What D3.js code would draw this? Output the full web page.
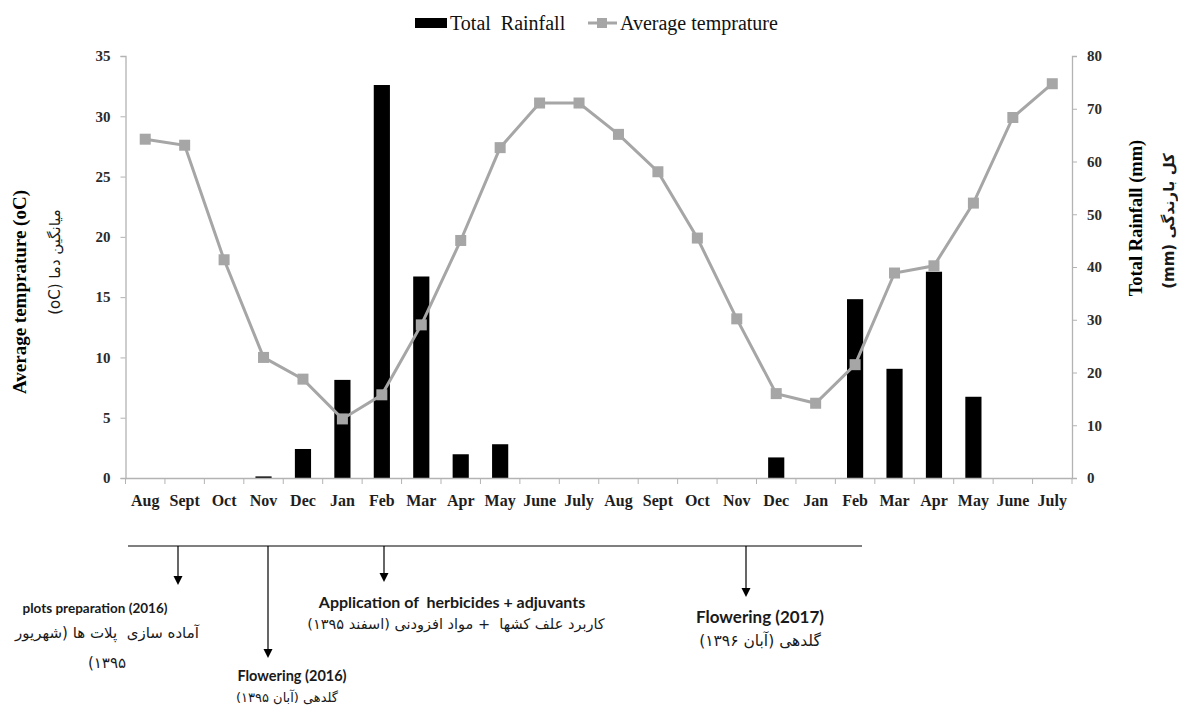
<!DOCTYPE html>
<html>
<head>
<meta charset="utf-8">
<script src="https://cdn.jsdelivr.net/npm/d3@7"></script>
<style>
  body { margin: 0; background: #fff; }
  svg { display: block; }
  .tick-lbl { font-family: "Liberation Serif", "Times New Roman", serif; font-weight: bold; }
  .note { font-family: Lato, "Open Sans", sans-serif; font-weight: bold; fill: #1a1a1a; }
  .fa { font-family: "DejaVu Sans", sans-serif; fill: #1a1a1a; }
</style>
</head>
<body>
<svg id="canvas" width="1178" height="707"></svg>
<script>
// months, two seasons (Aug 2016 .. July 2018)
let months = ["Aug", "Sept", "Oct", "Nov", "Dec", "Jan", "Feb", "Mar", "Apr", "May", "June", "July",
              "Aug", "Sept", "Oct", "Nov", "Dec", "Jan", "Feb", "Mar", "Apr", "May", "June", "July"];

// total rainfall (mm) - right axis
let rainfall = [0, 0, 0, 0.3, 5.5, 18.6, 74.5, 38.2, 4.5, 6.4, 0, 0,
                0, 0, 0, 0, 3.9, 0, 33.9, 20.7, 39.1, 15.4, 0, 0];

// average temprature (oC) - left axis
let temperature = [28.1, 27.6, 18.1, 10.0, 8.2, 4.9, 6.9, 12.7, 19.7, 27.4, 31.1, 31.1,
                   28.5, 25.4, 19.9, 13.2, 7.0, 6.2, 9.4, 17.0, 17.6, 22.8, 29.9, 32.7];

let tempTicks = [0, 5, 10, 15, 20, 25, 30, 35];
let rainTicks = [0, 10, 20, 30, 40, 50, 60, 70, 80];

// timeline notes below the chart
let noteEn = ["plots preparation (2016)", "Flowering (2016)", "Application of  herbicides + adjuvants", "Flowering (2017)"];
let noteFa = [["آماده سازی  پلات ها (شهریور", "۱۳۹۵)"], ["گلدهی (آبان ۱۳۹۵)"], ["کاربرد علف کشها  + مواد افزودنی (اسفند ۱۳۹۵)"], ["گلدهی (آبان ۱۳۹۶)"]];

let svg = d3.select("#canvas");

let plotL = 125.5, plotR = 1072, plotT = 56, plotB = 478;
let gray = "#a6a6a6";
let axisGray = "#b3b3b3";

let x = d3.scaleBand().domain(d3.range(months.length)).range([plotL, plotR]).paddingInner(0.59).paddingOuter(0.295);
let xBand = d3.scaleBand().domain(d3.range(months.length)).range([plotL, plotR]);
let yT = d3.scaleLinear().domain([0, 35]).range([plotB, plotT]);
let yR = d3.scaleLinear().domain([0, 80]).range([plotB, plotT]);

// bars
svg.append("g").selectAll("rect")
  .data(rainfall)
  .enter().append("rect")
    .attr("x", (d, i) => xBand(i) + xBand.bandwidth() / 2 - x.bandwidth() / 2)
    .attr("width", x.bandwidth())
    .attr("y", d => yR(d))
    .attr("height", d => plotB - yR(d))
    .attr("fill", "#000");

// axes
let gL = svg.append("g").attr("transform", `translate(${plotL},0)`)
  .call(d3.axisLeft(yT).tickValues(tempTicks).tickSize(5).tickPadding(10));
let gR = svg.append("g").attr("transform", `translate(${plotR},0)`)
  .call(d3.axisRight(yR).tickValues(rainTicks).tickSize(5).tickPadding(10));
let gX = svg.append("g").attr("transform", `translate(0,${plotB})`)
  .call(d3.axisBottom(xBand).tickSize(0).tickPadding(17).tickFormat(i => months[i]));

// x ticks sit on band boundaries
gX.selectAll(".bnd")
  .data(d3.range(months.length + 1))
  .enter().append("line")
    .attr("x1", i => plotL + i * xBand.bandwidth())
    .attr("x2", i => plotL + i * xBand.bandwidth())
    .attr("y1", 0).attr("y2", 6)
    .attr("stroke", axisGray);

[gL, gR, gX].forEach(g => {
  g.select(".domain").attr("stroke", axisGray).attr("stroke-width", 1.3);
  g.selectAll(".tick line").attr("stroke", axisGray);
  g.selectAll(".tick text").attr("class", "tick-lbl").attr("fill", "#2b2b2b").style("font-size", "15px");
});
gX.selectAll(".tick text").attr("fill", "#1e1e1e").style("font-size", "16px");

// temperature line
let line = d3.line()
  .x((d, i) => xBand(i) + xBand.bandwidth() / 2)
  .y(d => yT(d));

svg.append("path")
  .datum(temperature)
  .attr("d", line)
  .attr("fill", "none")
  .attr("stroke", gray)
  .attr("stroke-width", 3);

svg.append("g").selectAll("rect")
  .data(temperature)
  .enter().append("rect")
    .attr("x", (d, i) => xBand(i) + xBand.bandwidth() / 2 - 5.5)
    .attr("y", d => yT(d) - 5.5)
    .attr("width", 11).attr("height", 11)
    .attr("fill", gray);

// axis titles
let serif = "'Liberation Serif', 'Times New Roman', serif";
svg.append("text")
  .attr("transform", "translate(26,292) rotate(-90)")
  .attr("text-anchor", "middle")
  .style("font-family", serif).style("font-weight", "bold").style("font-size", "19px")
  .text("Average temprature (oC)");
svg.append("text")
  .attr("class", "fa")
  .attr("transform", "translate(60,262) rotate(-90)")
  .attr("text-anchor", "middle")
  .attr("direction", "rtl")
  .style("font-size", "15px")
  .text("میانگین دما (oC)");

svg.append("text")
  .attr("transform", "translate(1142,218) rotate(-90)")
  .attr("text-anchor", "middle")
  .style("font-family", serif).style("font-weight", "bold").style("font-size", "18.5px")
  .text("Total Rainfall (mm)");
svg.append("text")
  .attr("class", "fa")
  .attr("transform", "translate(1174,221) rotate(-90)")
  .attr("text-anchor", "middle")
  .attr("direction", "rtl")
  .style("font-size", "15px").style("font-weight", "bold")
  .text("کل بارندگی (mm)");

// legend
let lg = svg.append("g").style("font-family", serif).style("font-size", "20px").attr("fill", "#111");
lg.append("rect").attr("x", 415).attr("y", 18).attr("width", 32).attr("height", 10).attr("fill", "#000");
lg.append("text").attr("x", 450).attr("y", 30).attr("xml:space", "preserve").text("Total  Rainfall");
lg.append("line").attr("x1", 588).attr("x2", 617).attr("y1", 23).attr("y2", 23).attr("stroke", gray).attr("stroke-width", 3);
lg.append("rect").attr("x", 597).attr("y", 18).attr("width", 10).attr("height", 10).attr("fill", gray);
lg.append("text").attr("x", 620).attr("y", 30).text("Average temprature");

// timeline
svg.append("line").attr("x1", 128).attr("x2", 862).attr("y1", 546).attr("y2", 546).attr("stroke", "#000").attr("stroke-width", 1.2);

let arrowX = [178, 268, 384, 746];
let arrowTip = [585, 658, 582, 597];
arrowX.forEach((ax, i) => {
  svg.append("line").attr("x1", ax).attr("x2", ax).attr("y1", 546).attr("y2", arrowTip[i] - 6)
    .attr("stroke", "#000").attr("stroke-width", 1.2);
  svg.append("path")
    .attr("d", `M${ax - 4.5},${arrowTip[i] - 9} L${ax + 4.5},${arrowTip[i] - 9} L${ax},${arrowTip[i]} Z`)
    .attr("fill", "#000");
});

let noteCx = [95, 292, 452, 760];
let noteY = [613, 681, 608, 623];
let noteSize = [13.5, 14.5, 16, 17];
let faCx = [107, 287, 456, 760];
let faY = [[638, 668], [702], [629], [646]];
let faSize = [15, 13, 14.5, 15.5];

noteEn.forEach((t, i) => {
  svg.append("text").attr("class", "note")
    .attr("x", noteCx[i]).attr("y", noteY[i])
    .attr("text-anchor", "middle")
    .attr("xml:space", "preserve")
    .style("font-size", noteSize[i] + "px")
    .text(t);
  noteFa[i].forEach((s, j) => {
    svg.append("text").attr("class", "fa")
      .attr("x", faCx[i]).attr("y", faY[i][j])
      .attr("text-anchor", "middle")
      .attr("direction", "rtl")
      .attr("xml:space", "preserve")
      .style("font-size", faSize[i] + "px")
      .text(s);
  });
});
</script>
</body>
</html>
